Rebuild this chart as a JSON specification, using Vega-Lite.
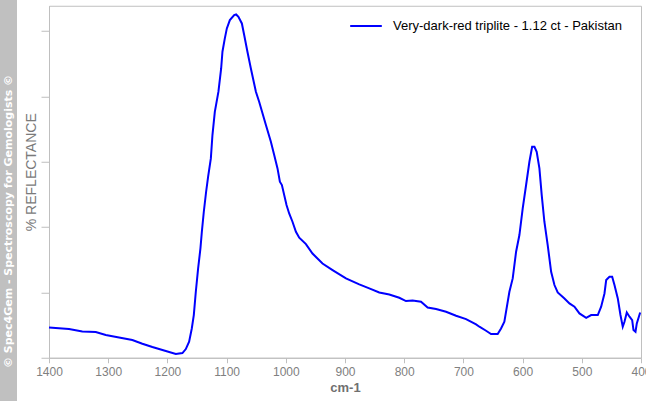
{
  "$schema": "https://vega.github.io/schema/vega-lite/v6.json",
  "padding": 0,
  "background": "white",
  "spacing": 7,
  "center": true,
  "config": {"font": "Liberation Sans"},
  "hconcat": [
    {
      "width": 17,
      "height": 401,
      "view": {"fill": "#c0c0c0", "stroke": null},
      "data": {"values": [{"t": "© Spec4Gem - Spectroscopy for Gemologists ©"}]},
      "mark": {"type": "text", "angle": 270, "color": "white", "font": "DejaVu Sans", "fontSize": 11, "fontWeight": "bold", "baseline": "middle", "align": "center", "dx": -21},
      "encoding": {"text": {"field": "t"}}
    },
    {
      "width": 592,
      "height": 352,
      "view": {"stroke": "#c0c0c0", "strokeWidth": 1},
      "data": {"values": [
        {"wn": 1400, "v": 4.64}, {"wn": 1366.2, "v": 4.39}, {"wn": 1343.7, "v": 4.03}, {"wn": 1321.0, "v": 3.93},
        {"wn": 1304.1, "v": 3.47}, {"wn": 1281.7, "v": 3.11}, {"wn": 1259.2, "v": 2.71}, {"wn": 1242.3, "v": 2.14},
        {"wn": 1225.4, "v": 1.64}, {"wn": 1202.7, "v": 1.03}, {"wn": 1185.8, "v": 0.57}, {"wn": 1174.6, "v": 0.72},
        {"wn": 1168.9, "v": 1.33}, {"wn": 1163.3, "v": 2.45}, {"wn": 1158.8, "v": 4.48}, {"wn": 1155.4, "v": 6.54},
        {"wn": 1152.0, "v": 10.10}, {"wn": 1148.1, "v": 13.67}, {"wn": 1144.2, "v": 16.73}, {"wn": 1141.8, "v": 19.29},
        {"wn": 1138.5, "v": 22.35}, {"wn": 1134.6, "v": 25.41}, {"wn": 1131.2, "v": 27.71}, {"wn": 1126.6, "v": 30.51},
        {"wn": 1123.9, "v": 34.09}, {"wn": 1119.9, "v": 37.65}, {"wn": 1113.8, "v": 40.72}, {"wn": 1109.2, "v": 44.28},
        {"wn": 1107.0, "v": 46.84}, {"wn": 1103.0, "v": 48.88}, {"wn": 1099.6, "v": 50.41}, {"wn": 1094.5, "v": 51.69},
        {"wn": 1087.2, "v": 52.46}, {"wn": 1083.9, "v": 52.55}, {"wn": 1080.0, "v": 52.20}, {"wn": 1074.2, "v": 51.17},
        {"wn": 1070.3, "v": 49.40}, {"wn": 1064.8, "v": 46.84}, {"wn": 1059.0, "v": 44.28}, {"wn": 1050.5, "v": 40.72},
        {"wn": 1045.0, "v": 39.19}, {"wn": 1033.6, "v": 35.62}, {"wn": 1025.2, "v": 33.06}, {"wn": 1019.6, "v": 31.03},
        {"wn": 1014.0, "v": 28.98}, {"wn": 1010.0, "v": 26.94}, {"wn": 1006.6, "v": 26.44}, {"wn": 998.8, "v": 23.37},
        {"wn": 994.3, "v": 22.09}, {"wn": 988.7, "v": 20.82}, {"wn": 982.9, "v": 19.29}, {"wn": 977.3, "v": 18.37},
        {"wn": 966.0, "v": 17.40}, {"wn": 954.9, "v": 15.96}, {"wn": 938.0, "v": 14.43}, {"wn": 921.0, "v": 13.42},
        {"wn": 898.4, "v": 12.14}, {"wn": 875.9, "v": 11.22}, {"wn": 859.0, "v": 10.61}, {"wn": 842.1, "v": 10.00},
        {"wn": 825.2, "v": 9.69}, {"wn": 808.3, "v": 9.18}, {"wn": 797.0, "v": 8.68}, {"wn": 785.8, "v": 8.77},
        {"wn": 771.6, "v": 8.57}, {"wn": 760.4, "v": 7.70}, {"wn": 746.2, "v": 7.45}, {"wn": 729.3, "v": 7.04},
        {"wn": 712.4, "v": 6.43}, {"wn": 695.5, "v": 5.92}, {"wn": 678.6, "v": 5.10}, {"wn": 673.0, "v": 4.75},
        {"wn": 661.7, "v": 4.13}, {"wn": 653.3, "v": 3.63}, {"wn": 642.1, "v": 3.63}, {"wn": 636.4, "v": 4.48},
        {"wn": 630.8, "v": 5.51}, {"wn": 622.3, "v": 10.10}, {"wn": 616.7, "v": 12.14}, {"wn": 611.0, "v": 16.23},
        {"wn": 605.4, "v": 18.78}, {"wn": 599.8, "v": 22.85}, {"wn": 594.1, "v": 26.44}, {"wn": 588.5, "v": 30.00},
        {"wn": 583.9, "v": 32.30}, {"wn": 580.0, "v": 32.30}, {"wn": 576.2, "v": 31.53}, {"wn": 571.6, "v": 28.98},
        {"wn": 567.7, "v": 24.90}, {"wn": 563.2, "v": 20.82}, {"wn": 557.6, "v": 17.25}, {"wn": 551.8, "v": 13.16},
        {"wn": 546.2, "v": 11.13}, {"wn": 540.7, "v": 10.00}, {"wn": 529.3, "v": 9.08}, {"wn": 520.9, "v": 8.31},
        {"wn": 512.4, "v": 7.81}, {"wn": 504.0, "v": 6.78}, {"wn": 492.6, "v": 6.12}, {"wn": 484.2, "v": 6.54},
        {"wn": 473.0, "v": 6.54}, {"wn": 467.3, "v": 7.81}, {"wn": 461.7, "v": 9.84}, {"wn": 458.8, "v": 11.89},
        {"wn": 453.3, "v": 12.40}, {"wn": 448.7, "v": 12.40}, {"wn": 444.8, "v": 11.13}, {"wn": 439.2, "v": 9.08},
        {"wn": 434.7, "v": 6.54}, {"wn": 430.8, "v": 4.75}, {"wn": 427.9, "v": 5.51}, {"wn": 424.0, "v": 6.93},
        {"wn": 419.4, "v": 6.28}, {"wn": 414.9, "v": 5.77}, {"wn": 412.7, "v": 4.24}, {"wn": 409.3, "v": 3.98},
        {"wn": 407.1, "v": 5.25}, {"wn": 401.4, "v": 6.93}
      ]},
      "mark": {"type": "line", "strokeWidth": 2, "interpolate": "linear"},
      "encoding": {
        "x": {
          "field": "wn", "type": "quantitative",
          "scale": {"domain": [400, 1400], "reverse": true, "nice": false, "zero": false},
          "axis": {
            "values": [400, 500, 600, 700, 800, 900, 1000, 1100, 1200, 1300, 1400],
            "format": "d", "title": "cm-1", "grid": false, "labelFlush": false,
            "tickSize": 5, "labelPadding": 4, "titlePadding": 4,
            "labelColor": "#808080", "labelFontSize": 12, "labelFont": "Liberation Sans",
            "titleColor": "#707070", "titleFontSize": 13, "titleFontWeight": "bold", "titleFont": "Liberation Sans",
            "domainColor": "#bfbfbf", "tickColor": "#bfbfbf"
          }
        },
        "y": {
          "field": "v", "type": "quantitative",
          "scale": {"domain": [0, 53.88], "nice": false, "zero": false},
          "axis": {
            "values": [0, 10, 20, 30, 40, 50], "labels": false, "grid": false,
            "tickSize": 8, "title": "% REFLECTANCE", "titlePadding": 2,
            "titleColor": "#7a7a7a", "titleFontSize": 14, "titleFontWeight": "normal", "titleFont": "Liberation Sans",
            "titleY": 166,
            "domainColor": "#bfbfbf", "tickColor": "#bfbfbf"
          }
        },
        "color": {
          "datum": "Very-dark-red triplite - 1.12 ct - Pakistan",
          "scale": {"range": ["#0000ff"]},
          "legend": {
            "orient": "none", "legendX": 349, "legendY": 9, "title": null,
            "symbolType": "stroke", "symbolSize": 1000, "symbolStrokeWidth": 2,
            "labelFontSize": 13, "labelColor": "black", "labelFont": "Liberation Sans",
            "labelOffset": 10, "padding": 0, "labelLimit": 400
          }
        }
      }
    }
  ]
}
